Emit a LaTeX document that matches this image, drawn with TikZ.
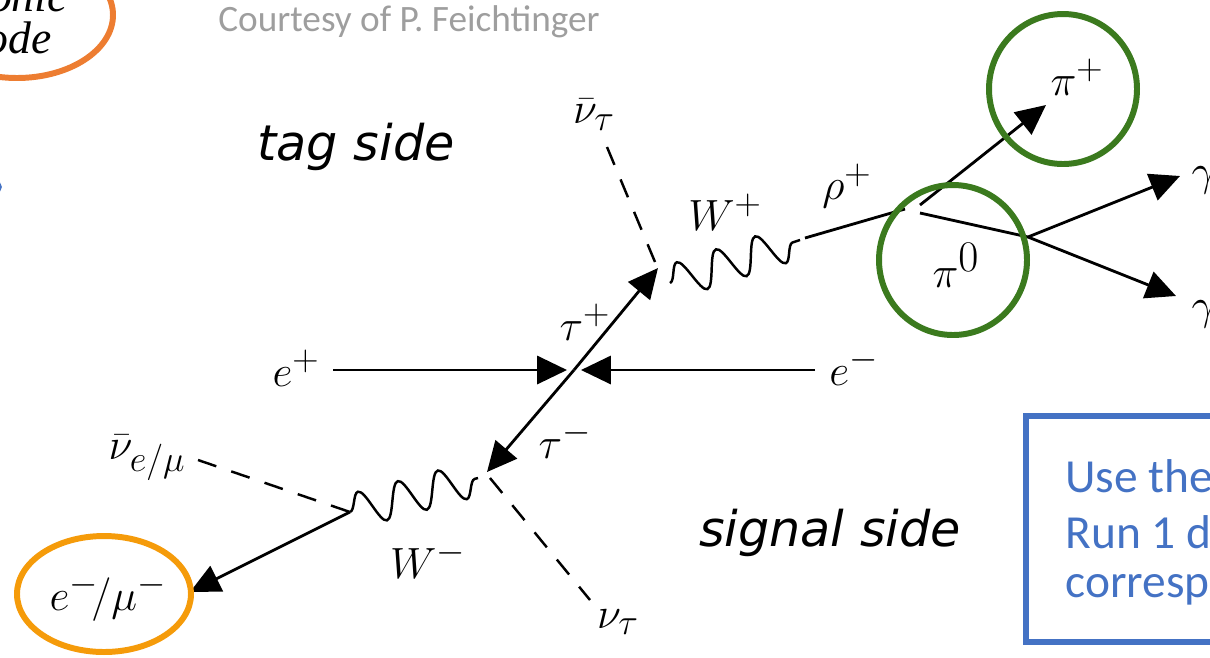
\documentclass[tikz,border=0pt]{standalone}
\usepackage{fontspec}
\usepackage{amsmath}
\newfontfamily\sidefont{DejaVu Sans}
\newfontfamily\slidefont{Carlito}
\newfontfamily\serifont{Liberation Serif}
\usetikzlibrary{arrows.meta,decorations.pathmorphing}
\definecolor{ringgreen}{HTML}{3B7A1E}
\definecolor{ringorange}{HTML}{ED7D31}
\definecolor{ringyellow}{HTML}{F59B0A}
\definecolor{boxblue}{HTML}{4472C4}
\tikzset{
	lbl/.style={inner sep=0pt,font=\fontsize{30}{34}\selectfont},
	small/.style={inner sep=0pt,font=\fontsize{29}{33}\selectfont},
	side/.style={inner sep=0pt,font=\fontsize{28}{34}\selectfont\sidefont\itshape},
	clipped/.style={inner sep=0pt,anchor=east,font=\fontsize{26}{30}\selectfont\serifont\itshape},
	blue text/.style={inner sep=0pt,anchor=west,text=boxblue,font=\fontsize{27}{32}\selectfont\slidefont},
	arr/.style={line width=1.6pt,-{Triangle[length=17pt,width=16pt]}},
	lin/.style={line width=1.6pt},
	dsh/.style={line width=1.4pt,dash pattern=on 11pt off 9pt},
	wav/.style={line width=1.4pt,decorate,decoration={snake,amplitude=10pt,segment length=23.5pt,post length=0pt}},
	ring/.style={line width=3.4pt,draw=#1}
}
\begin{document}
\begin{tikzpicture}[x=0.02cm,y=-0.02cm]
	\useasboundingbox (0,0) rectangle (1210,657);
	\clip (0,0) rectangle (1210,657);
	% vertices
	\coordinate (wplusL) at (670,283);
	\coordinate (wplusR) at (800,240);
	\coordinate (wminusL) at (350,512);
	\coordinate (wminusR) at (478,478);
	\coordinate (tauUp) at (658,268);
	\coordinate (tauDown) at (487,472);
	\coordinate (rhoStart) at (805,238);
	\coordinate (rhoEnd) at (905,209);
	\coordinate (piStart) at (920,205);
	\coordinate (pizStart) at (920,213);
	\coordinate (split) at (1028,237);
	\coordinate (hit) at (574,370);
	\coordinate (eplusEnd) at (333,370);
	\coordinate (eplusTip) at (567,370);
	\coordinate (eminusEnd) at (815,370);
	\coordinate (eminusTip) at (581,370);
	% labels
	\node[lbl] (eplus) at (296,368) {\fontsize{28}{32}\selectfont$e^+$};
	\node[lbl] (eminus) at (854,367) {\fontsize{28}{32}\selectfont$e^-$};
	\node[lbl] (tauplus) at (585,322) {$\tau^+$};
	\node[lbl] (tauminus) at (565,440) {$\tau^-$};
	\node[lbl] (wplus) at (725,212) {$W^+$};
	\node[lbl] (wminus) at (428,560) {$W^-$};
	\node[lbl] (rho) at (847,186) {$\rho^+$};
	\node[lbl] (piplus) at (1077,77) {$\pi^+$};
	\node[lbl] (pizero) at (956,265) {\fontsize{33}{36}\selectfont$\pi^0$};
	\node[lbl] (gammaA) at (1204,180) {$\gamma$};
	\node[lbl] (gammaB) at (1204,314) {$\gamma$};
	\node[lbl] (lepton) at (108,597) {\fontsize{28}{32}\selectfont$e^-\!/\mu^-$};
	\node[small] (nubartau) at (594,115) {$\bar\nu_\tau$};
	\node[small] (nutau) at (618,622) {$\nu_\tau$};
	\node[small] (nubarlep) at (147,458) {$\bar\nu_{e/\mu}$};
	\node[side] (tagside) at (356,147) {tag side};
	\node[side] (sigside) at (830,533) {signal side};
	% lines
	\draw[arr] (eplusEnd)--(eplusTip);
	\draw[arr] (eminusEnd)--(eminusTip);
	\draw[arr] (hit)--(tauUp);
	\draw[arr] (hit)--(tauDown);
	\draw[dsh] (607,147)--(655,262);
	\draw[dsh] (490,478)--(590,600);
	\draw[dsh] (198,460)--(wminusL);
	\draw[wav] (wplusL)--(wplusR);
	\draw[wav] (wminusL)--(wminusR);
	\draw[lin] (rhoStart)--(rhoEnd);
	\draw[arr] (piStart)--(1046,105);
	\draw[lin] (pizStart)--(split);
	\draw[arr] (split)--(1180,176);
	\draw[arr] (split)--(1176,296);
	\draw[arr] (wminusL)--(190,592);
	% rings
	\draw[ring=ringgreen] (1063,89) ellipse (74 and 75);
	\draw[ring=ringgreen] (953,260) ellipse (74 and 75);
	\draw[ring=ringyellow] (104,594) ellipse (87 and 58);
	\draw[ring=ringorange] (17,15) ellipse (96 and 63);
	\draw[line width=1pt,draw=boxblue] (-4,187) circle (5);
	% text from the slide
	\node[clipped] (oniclbl) at (68,-3) {onic};
	\node[clipped] (odelbl) at (52,38) {ode};
	\node[inner sep=0pt,anchor=west,text=black!38,font=\fontsize{21.2}{25}\selectfont\slidefont] (courtesy) at (218,22) {Courtesy of P. Feichtinger};
	\draw[line width=3.4pt,draw=boxblue] (1026,416) rectangle (1300,642);
	\node[blue text] (lineA) at (1065,476) {Use the};
	\node[blue text] (lineB) at (1065,532) {Run 1 d};
	\node[blue text] (lineC) at (1065,590) {corresp};
\end{tikzpicture}
\end{document}
